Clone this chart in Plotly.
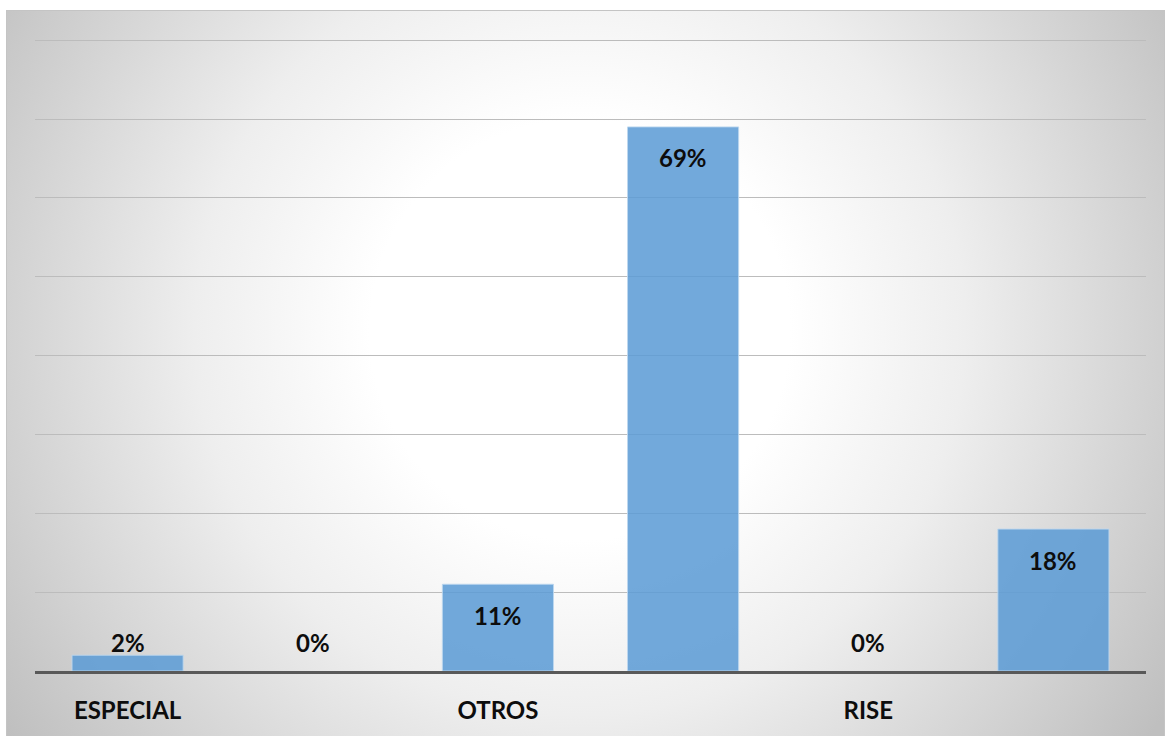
import base64
import plotly.graph_objects as go

# Share of records by category (percent)
categories = ["ESPECIAL", "", "OTROS", "", "RISE", ""]
values = [2, 0, 11, 69, 0, 18]
label_text = ["2%", "0%", "11%", "69%", "0%", "18%"]

W, H = 1165, 736
M_L, M_R, M_T, M_B = 35, 19, 39, 65
plot_w = W - M_L - M_R
plot_h = H - M_T - M_B

FONT = dict(family="Lato, Open Sans, sans-serif", size=24, color="#0d0d0d", weight="bold")

# Radial grey-to-white chart-area fill, drawn as an SVG background image
svg = f"""<svg xmlns='http://www.w3.org/2000/svg' width='1159' height='726' viewBox='0 0 1159 726'>
<defs><radialGradient id='g' gradientUnits='userSpaceOnUse' cx='574' cy='320' r='700'>
<stop offset='0' stop-color='#ffffff'/>
<stop offset='0.30' stop-color='#ffffff'/>
<stop offset='0.55' stop-color='#eeeeee'/>
<stop offset='1' stop-color='#bfbfbf'/>
</radialGradient></defs>
<rect x='0' y='0' width='1159' height='726' fill='url(#g)'/>
<rect x='0.5' y='0.5' width='1158' height='740' fill='none' stroke='#c4c4c4' stroke-width='1'/>
</svg>"""
bg_src = "data:image/svg+xml;base64," + base64.b64encode(svg.encode()).decode()

x_idx = list(range(len(values)))

fig = go.Figure()
fig.add_trace(go.Bar(
    x=x_idx,
    y=values,
    width=0.6,
    marker=dict(color="rgba(91,155,213,0.86)",
                line=dict(color="rgba(189,215,238,0.9)",
                          width=[1 if v > 0 else 0 for v in values])),
    hoverinfo="skip",
))

# Value labels: inside the top of tall bars, just above short ones
annotations = []
for xi, v, t in zip(x_idx, values, label_text):
    if v >= 5:
        annotations.append(dict(x=xi, y=v, text=t, showarrow=False, font=FONT,
                                xref="x", yref="y", yanchor="middle", yshift=-31))
    else:
        annotations.append(dict(x=xi, y=max(v, 2), text=t, showarrow=False, font=FONT,
                                xref="x", yref="y", yanchor="middle", yshift=13))

fig.update_layout(
    width=W, height=H,
    margin=dict(l=M_L, r=M_R, t=M_T, b=M_B),
    paper_bgcolor="white",
    plot_bgcolor="rgba(0,0,0,0)",
    showlegend=False,
    annotations=annotations,
    images=[dict(
        source=bg_src, xref="paper", yref="paper",
        x=(6 - M_L) / plot_w, y=(H - M_B - 10) / plot_h,
        sizex=(W - 6) / plot_w, sizey=(H - 10) / plot_h,
        xanchor="left", yanchor="top", sizing="stretch", layer="below",
    )],
    xaxis=dict(
        range=[-0.5, len(values) - 0.5],
        tickmode="array", tickvals=x_idx, ticktext=categories,
        tickfont=FONT,
        ticks="", ticklabelstandoff=16,
        showline=True, linecolor="#595959", linewidth=3,
        showgrid=False, zeroline=False, fixedrange=True,
    ),
    yaxis=dict(
        range=[0, 80.15], tickmode="array", tickvals=list(range(10, 90, 10)),
        showticklabels=False, ticks="",
        showgrid=True, gridcolor="#bcbcbc", gridwidth=1,
        zeroline=False, showline=False, fixedrange=True,
    ),
)

fig.write_html("out.html", include_plotlyjs=True, config={"displayModeBar": False})
